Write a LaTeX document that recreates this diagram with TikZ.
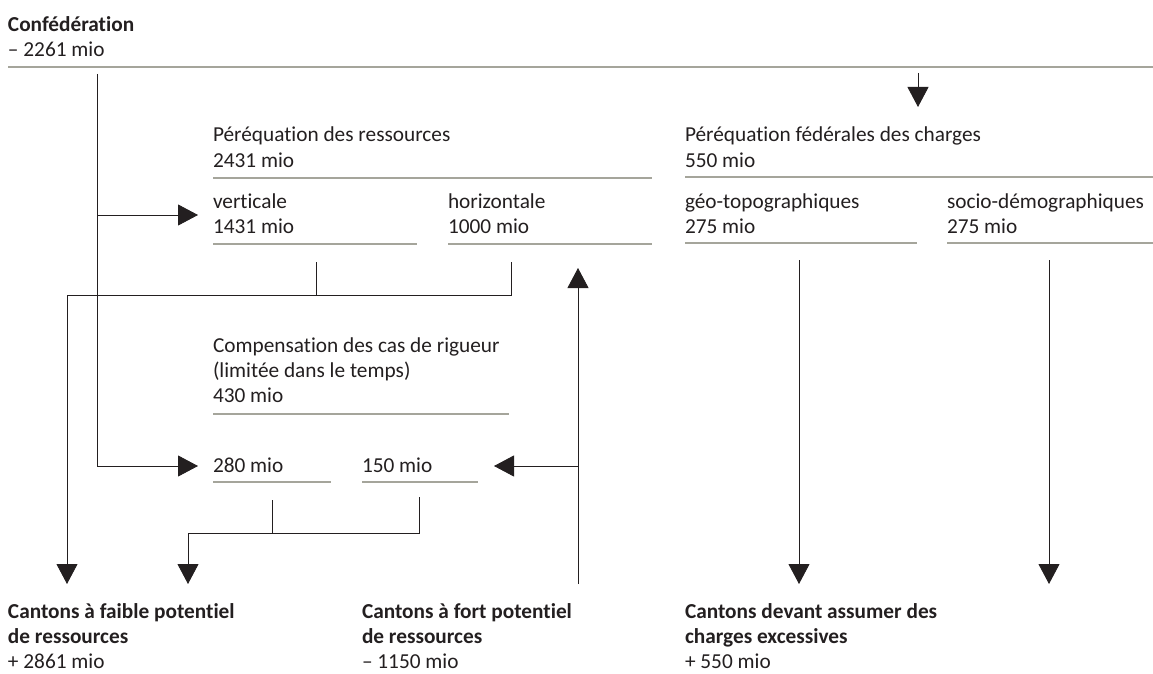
\documentclass[tikz,border=0pt]{standalone}
\usepackage{fontspec}
\setmainfont{Carlito}[Ligatures=NoCommon]
\usetikzlibrary{arrows.meta}
\definecolor{ink}{RGB}{35,31,32}
\definecolor{rulegrey}{RGB}{165,165,155}
\begin{document}
\begin{tikzpicture}[x=1pt,y=-1pt,
  lbl/.style={anchor=base west, inner sep=0pt, outer sep=0pt, align=left, text=ink,
              font=\fontsize{21.3}{25}\selectfont},
  rulel/.style={draw=rulegrey, line width=1.2pt},
  conn/.style={draw=ink, line width=0.9pt},
  arr/.style={conn, -{Triangle[length=20pt,width=21pt]}},
]
\useasboundingbox (0,0) rectangle (1153,674);

% ---------- texts (anchored at the baseline of their last line) ----------
\node[lbl] (conf) at (8,57) {\textbf{Confédération}\\– 2261 mio};
\node[lbl] (pr)   at (213,167) {Péréquation des ressources\\2431 mio};
\node[lbl] (vert) at (213,233) {verticale\\1431 mio};
\node[lbl] (hori) at (448,233) {horizontale\\1000 mio};
\node[lbl] (pfc)  at (685,167) {Péréquation fédérales des charges\\550 mio};
\node[lbl] (geo)  at (685,233) {géo-topographiques\\275 mio};
\node[lbl] (soc)  at (947,233) {socio-démographiques\\275 mio};
\node[lbl] (comp) at (213,402) {Compensation des cas de rigueur\\(limitée dans le temps)\\430 mio};
\node[lbl] (k280) at (213,472) {280 mio};
\node[lbl] (k150) at (362,472) {150 mio};
\node[lbl] (cfa)  at (8,668) {\textbf{Cantons à faible potentiel}\\\textbf{de ressources}\\+ 2861 mio};
\node[lbl] (cfo)  at (362,668) {\textbf{Cantons à fort potentiel}\\\textbf{de ressources}\\– 1150 mio};
\node[lbl] (cde)  at (685,668) {\textbf{Cantons devant assumer des}\\\textbf{charges excessives}\\+ 550 mio};

% ---------- grey rules ----------
\draw[rulel] (8,67) -- (1153,67);
\draw[rulel] (213,178) -- (652,178);
\draw[rulel] (213,244) -- (417,244);
\draw[rulel] (448,244) -- (652,244);
\draw[rulel] (685,177) -- (1153,177);
\draw[rulel] (685,243) -- (917,243);
\draw[rulel] (947,243) -- (1153,243);
\draw[rulel] (213,414) -- (509,414);
\draw[rulel] (213,482) -- (331,482);
\draw[rulel] (362,482) -- (478,482);

% ---------- connector points ----------
\coordinate (cA)    at (97,74);
\coordinate (cAv)   at (97,215);
\coordinate (vin)   at (198,215);
\coordinate (k280in) at (198,466);
\coordinate (tA)    at (918,73);
\coordinate (tB)    at (918,107);
\coordinate (t1)    at (316,262);
\coordinate (t1b)   at (316,295);
\coordinate (t2)    at (511,262);
\coordinate (t2b)   at (511,295);
\coordinate (fpL)   at (67,584);
\coordinate (uB)    at (578,584);
\coordinate (uM)    at (578,466);
\coordinate (uT)    at (578,268);
\coordinate (k150in) at (494,466);
\coordinate (s1)    at (272,500);
\coordinate (s1b)   at (272,533);
\coordinate (s2)    at (419,497);
\coordinate (s2b)   at (419,533);
\coordinate (fp2)   at (188,584);
\coordinate (g1)    at (799,260);
\coordinate (g1b)   at (799,584);
\coordinate (d1)    at (1049,260);
\coordinate (d1b)   at (1049,584);

% ---------- connectors ----------
\draw[arr] (cA) |- (k280in);
\draw[arr] (cAv) -- (vin);
\draw[arr] (tA) -- (tB);
\draw[conn] (t1) -- (t1b);
\draw[arr] (t2) -- (t2b) -| (fpL);
\draw[arr] (uB) -- (uT);
\draw[arr] (uM) -- (k150in);
\draw[conn] (s1) -- (s1b);
\draw[arr] (s2) -- (s2b) -| (fp2);
\draw[arr] (g1) -- (g1b);
\draw[arr] (d1) -- (d1b);
\end{tikzpicture}
\end{document}
